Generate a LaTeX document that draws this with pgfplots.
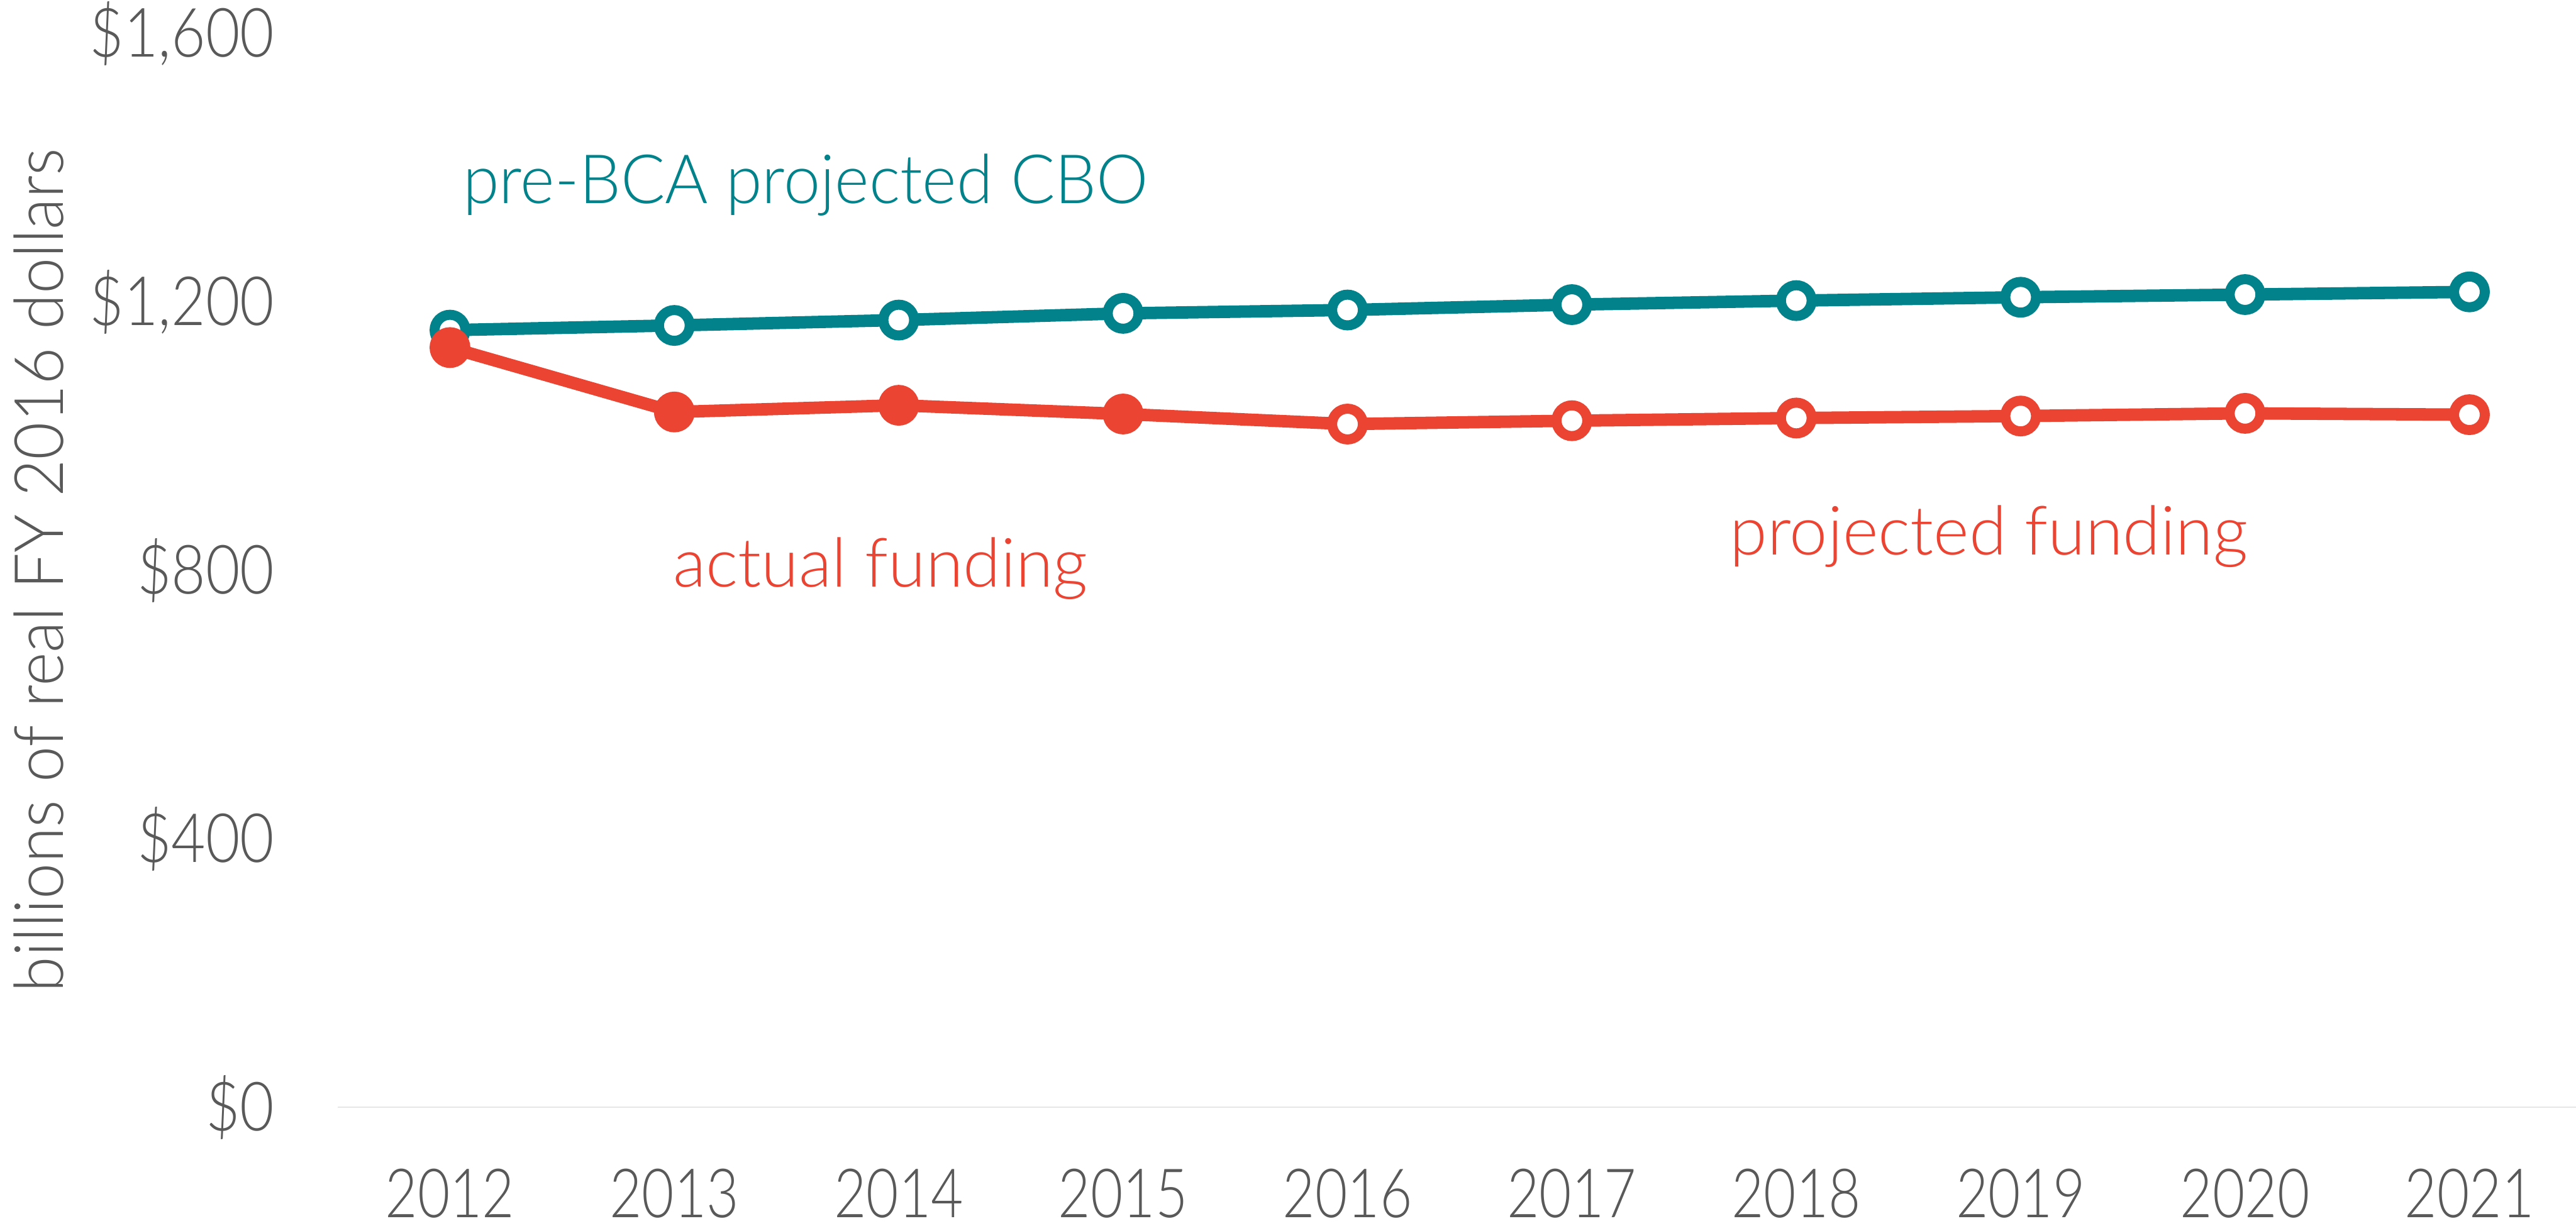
\documentclass[border=0pt]{standalone}
\usepackage{pgfplots}
\pgfplotsset{compat=1.18}
\usepackage{fontspec}
\setmainfont{Lato Light}
\newfontfamily\digitfont{Lato Light}[FakeStretch=0.82]
\newfontfamily\ytickfont{Lato Light}[FakeStretch=0.87]
\newfontfamily\ylabfont{Lato Light}[FakeStretch=0.95]
\newfontfamily\cbofont{Lato Light}[FakeStretch=0.965]
\definecolor{tealc}{RGB}{2,130,138}
\definecolor{redc}{RGB}{235,68,51}
\definecolor{tickgray}{RGB}{89,89,89}
\definecolor{gridgray}{RGB}{230,230,230}
\newcommand{\chartsize}{\fontsize{14.6}{17}\selectfont}
\begin{document}
\begin{tikzpicture}
\useasboundingbox (-72.5pt,-25.5pt) rectangle (480.4pt,237.7pt);
\clip (-72.5pt,-25.5pt) rectangle (480.4pt,237.7pt);
\begin{axis}[
  scale only axis, width=481.6pt, height=230.5pt,
  xmin=2011.5, xmax=2021.5, ymin=0, ymax=1600,
  axis line style={draw=none}, major tick length=0pt, tick style={draw=none},
  xtick={2012,2013,2014,2015,2016,2017,2018,2019,2020,2021},
  xticklabels={2012,2013,2014,2015,2016,2017,2018,2019,2020,2021},
  ytick={0}, yticklabels={\$0},
  extra y ticks={400,800,1200,1600},
  extra y tick labels={{\$400},{\$800},{\$1,200},{\$1,600}},
  extra y tick style={grid=none},
  ymajorgrids, major grid style={draw=gridgray, line width=0.3pt},
  xticklabel style={anchor=north, inner sep=0pt, yshift=-13.1pt, font=\digitfont\chartsize, text=tickgray},
  yticklabel style={anchor=east, inner sep=0pt, xshift=-13.4pt, font=\ytickfont\chartsize, text=tickgray},
  ylabel={billions of real FY 2016 dollars},
  every axis y label/.style={at={(axis description cs:0,0.5)}, xshift=-64.2pt, rotate=90, anchor=center, inner sep=0pt, font=\ylabfont\chartsize, text=tickgray},
  clip=false,
]
% pre-BCA projected CBO
\addplot[color=tealc, line width=2.67pt, mark=*, mark size=3.3pt,
  mark options={draw=tealc, fill=white, line width=2.15pt}]
  coordinates {(2012,1158) (2013,1165) (2014,1173) (2015,1183) (2016,1188)
               (2017,1196) (2018,1202) (2019,1207) (2020,1211) (2021,1215)};
% funding line (actual + projected)
\addplot[color=redc, line width=2.67pt, mark=none]
  coordinates {(2012,1132) (2013,1036) (2014,1046) (2015,1033) (2016,1018)
               (2017,1023) (2018,1027) (2019,1030) (2020,1034) (2021,1032)};
% actual funding markers
\addplot[only marks, mark=*, mark size=3.3pt,
  mark options={draw=redc, fill=redc, line width=2.15pt}]
  coordinates {(2012,1132) (2013,1036) (2014,1046) (2015,1033)};
% projected funding markers
\addplot[only marks, mark=*, mark size=3.3pt,
  mark options={draw=redc, fill=white, line width=2.15pt}]
  coordinates {(2016,1018) (2017,1023) (2018,1027) (2019,1030) (2020,1034) (2021,1032)};
\node[anchor=base west, inner sep=0pt, text=tealc, font=\cbofont\chartsize] at (axis cs:2012.054,1347) {pre-BCA projected CBO};
\node[anchor=base west, inner sep=0pt, text=redc, font=\chartsize] at (axis cs:2012.99,775) {actual funding};
\node[anchor=base west, inner sep=0pt, text=redc, font=\chartsize] at (axis cs:2017.70,823) {projected funding};
\end{axis}
\end{tikzpicture}
\end{document}
